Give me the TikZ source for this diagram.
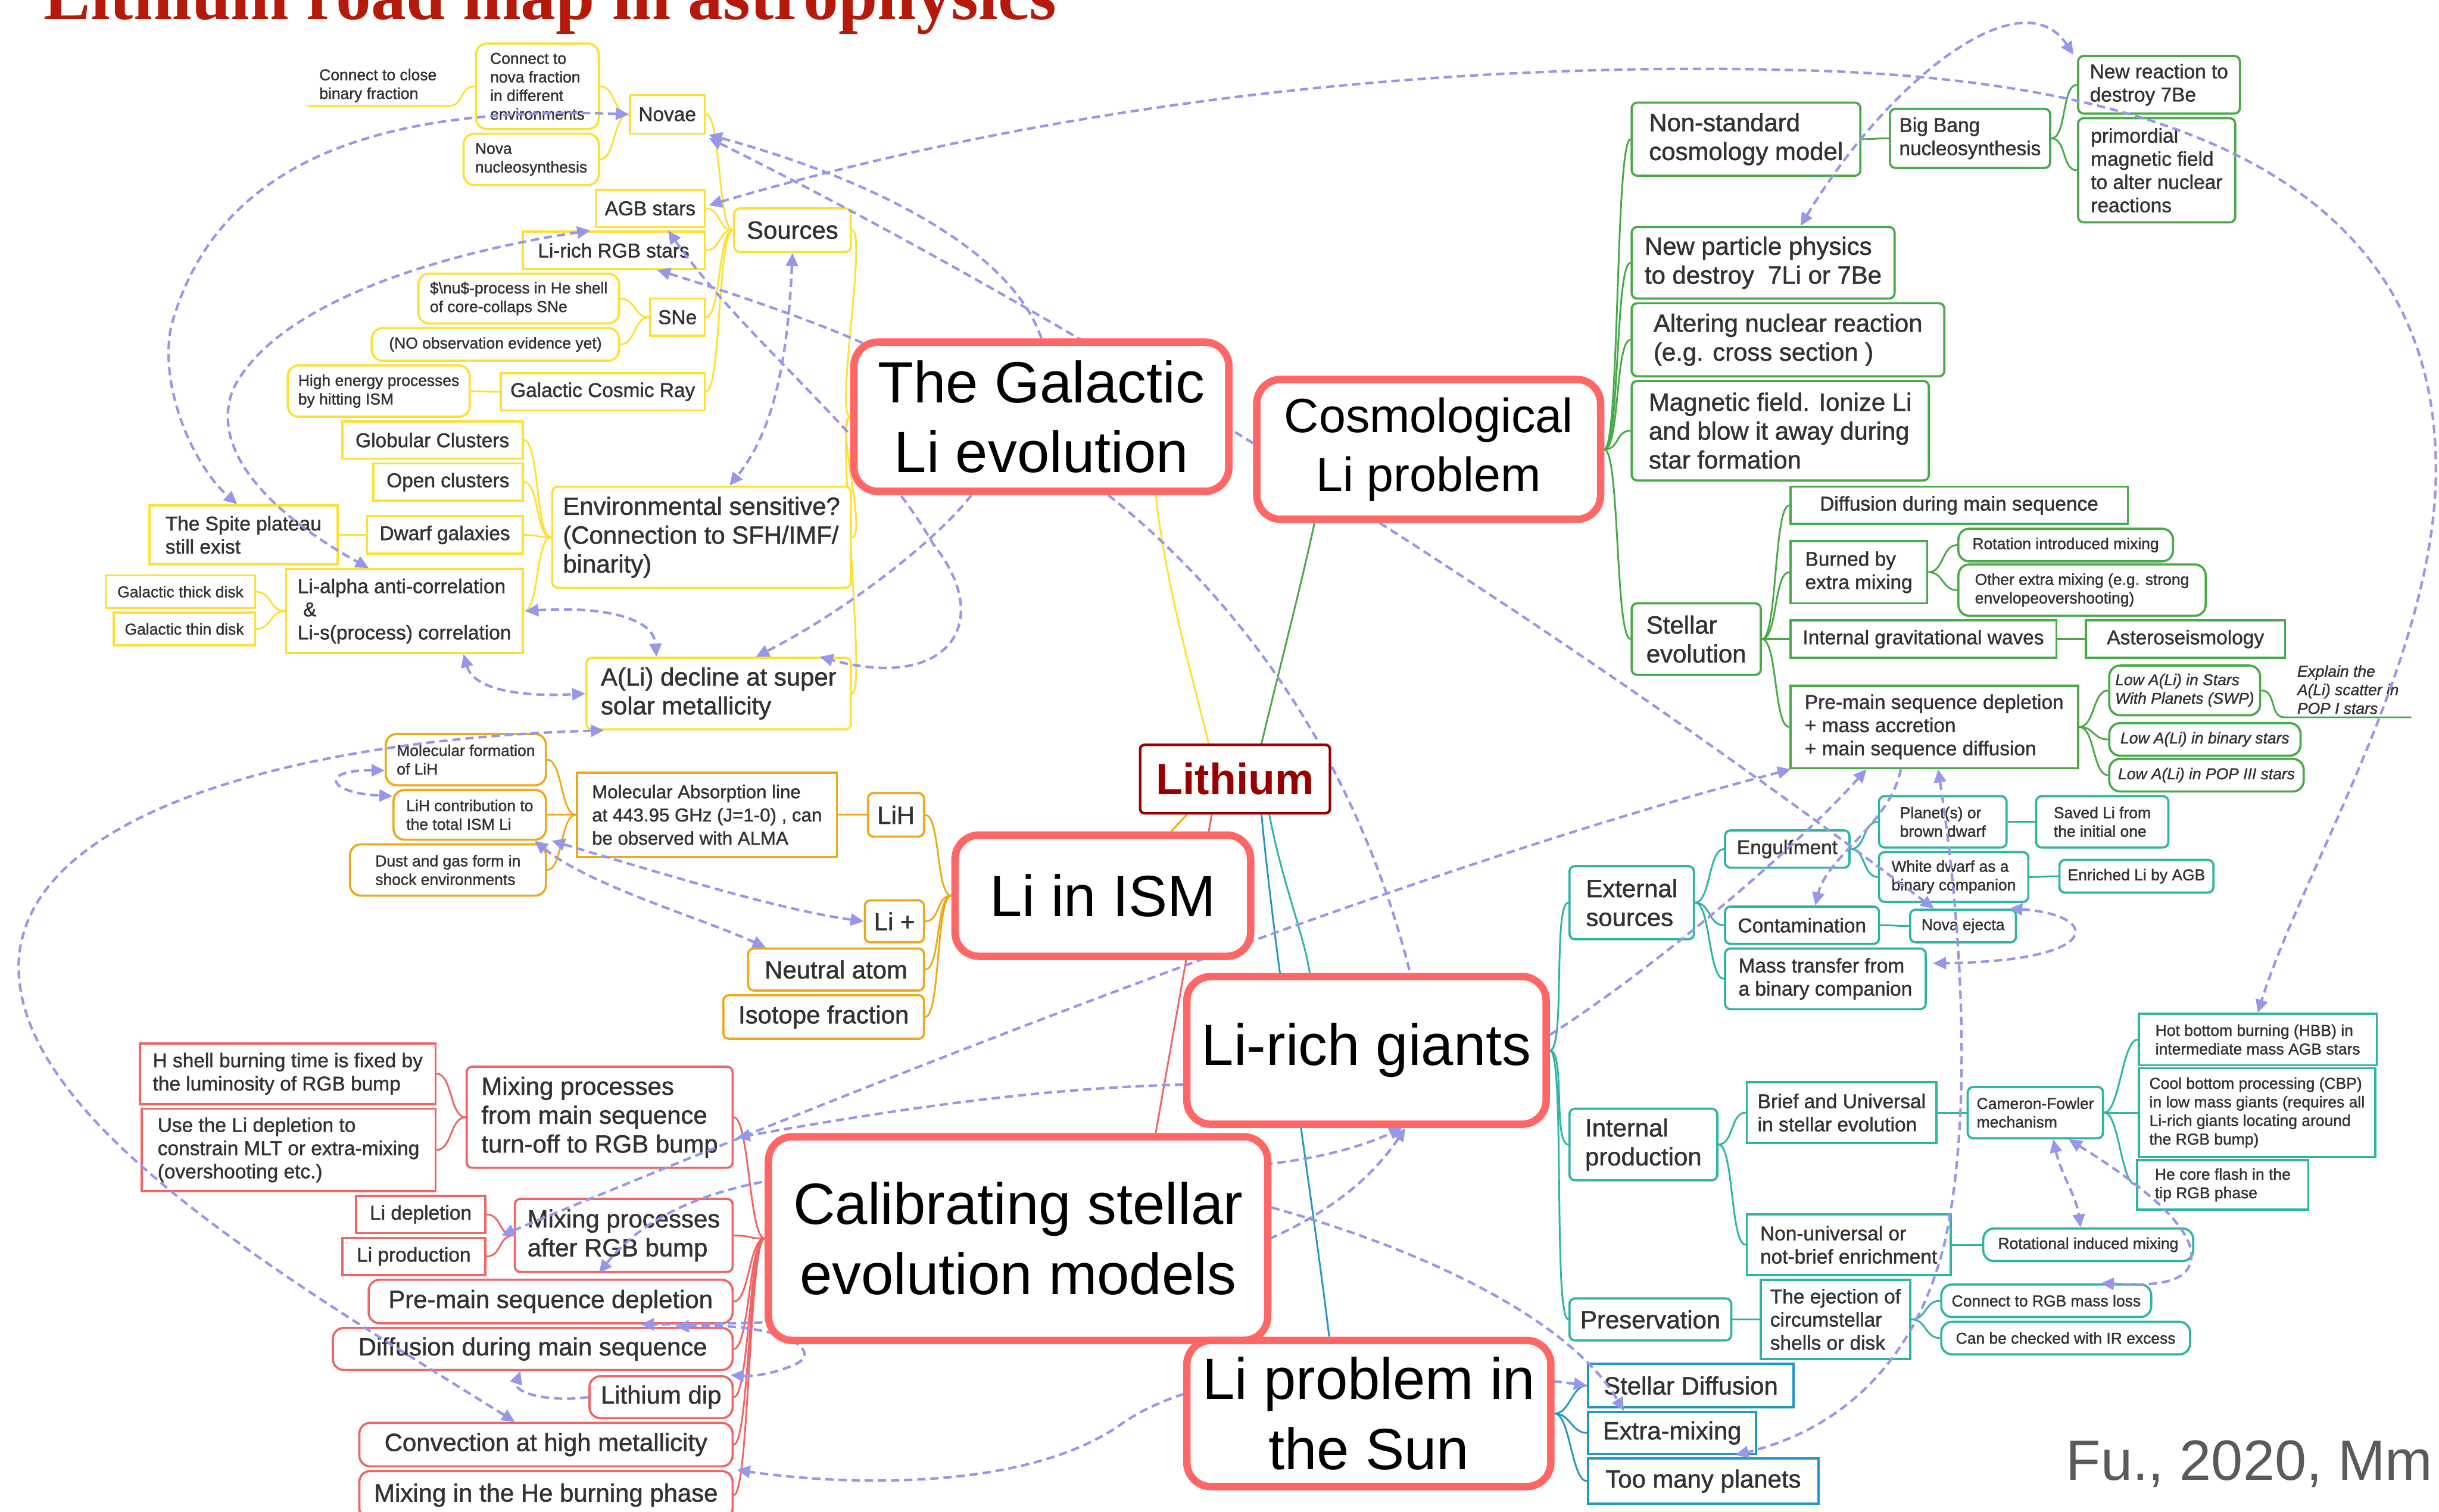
\documentclass[tikz,border=0pt]{standalone}
\usepackage{fontspec}
\setmainfont{Liberation Sans}
\newfontfamily\nodefont{Liberation Sans}[FakeBold=1.3]
\newfontfamily\titlefont{Liberation Serif}
\usetikzlibrary{arrows.meta,calc}
\pgfdeclarelayer{bg}
\pgfdeclarelayer{rel}
\pgfdeclarelayer{top}
\pgfsetlayers{bg,main,rel,top}
\definecolor{ycol}{RGB}{255,224,50}
\definecolor{ocol}{RGB}{240,168,25}
\definecolor{rcol}{RGB}{240,100,100}
\definecolor{mcol}{RGB}{255,102,102}
\definecolor{gcol}{RGB}{70,170,70}
\definecolor{tcol}{RGB}{45,180,165}
\definecolor{bcol}{RGB}{35,150,195}
\definecolor{lav}{RGB}{150,150,235}
\definecolor{txt}{RGB}{50,50,50}
\definecolor{lithc}{RGB}{150,0,0}
\definecolor{titc}{RGB}{180,25,10}
\definecolor{citec}{RGB}{90,90,90}
\newcommand\mnode[7]{\node[#1,minimum width={(#4-#2)*0.025cm},minimum height={(#5-#3)*0.025cm}] (#6) at ({(#2+#4)/2},{(#3+#5)/2}) {#7};}
\newcommand\brL[2]{\draw (#1.west) .. controls +(-10,0) and +(10,0) .. (#2.east);}
\newcommand\brR[2]{\draw (#1.east) .. controls +(10,0) and +(-10,0) .. (#2.west);}
\tikzset{
  bx/.style={draw, line width=1pt, fill=white, text=txt, align=left, inner xsep=2.5pt, inner ysep=1pt},
  sq/.style={bx},
  rs/.style={bx, rounded corners=2.5pt},
  pl/.style={bx, rounded corners=5pt},
  f2/.style={font=\nodefont\fontsize{11.4}{13.2}\selectfont},
  f3/.style={font=\nodefont\fontsize{9.1}{10.6}\selectfont},
  f3m/.style={font=\nodefont\fontsize{8.5}{10.6}\selectfont},
  f4/.style={font=\nodefont\fontsize{7.2}{8.5}\selectfont},
  f4i/.style={font=\nodefont\fontsize{7.2}{8.5}\selectfont\itshape},
  cY/.style={draw=ycol}, cO/.style={draw=ocol}, cR/.style={draw=rcol},
  cG/.style={draw=gcol}, cT/.style={draw=tcol}, cB/.style={draw=bcol},
  ul/.style={align=left, text=txt, inner xsep=2pt, inner ysep=1pt},
  mt/.style={draw=mcol, line width=3.4pt, fill=white, rounded corners=11pt, align=center, text=black, inner sep=2pt, font=\fontsize{26.6}{31.9}\selectfont},
  mtc/.style={font=\fontsize{22}{27}\selectfont},
  lithst/.style={draw=lithc, line width=1.2pt, fill=white, rounded corners=2pt, text=lithc, inner sep=2pt, font=\fontsize{20}{24}\selectfont\bfseries},
  rl/.style={draw=lav, line width=1.15pt, dash pattern=on 3.8pt off 2.2pt},
  rel0/.style={rl},
  rel1/.style={rl,->},
  rel2/.style={rl,<->},
}
\begin{document}
\begin{tikzpicture}[x=0.025cm,y=-0.025cm,>={Triangle[length=6pt,width=5.5pt]}]
\useasboundingbox (0,0) rectangle (1568,972);
\begin{pgfonlayer}{bg}
\fill[white] (0,0) rectangle (1568,972);
\end{pgfonlayer}

% title and credit
\node[anchor=base west, inner sep=0, text=titc, font=\titlefont\bfseries\fontsize{32}{36}\selectfont] (title) at (28,12.5) {Lithium road map in astrophysics};
\node[anchor=base west, inner sep=0, text=citec, font=\fontsize{26}{30}\selectfont] (cite) at (1328,952) {Fu., 2020, Mm};

% ---------- yellow branch ----------
\mnode{ul,f4}{198}{42}{288}{68}{closebin}{Connect to close\\binary fraction}
\mnode{pl,cY,f4}{306}{28}{385}{83}{connnova}{Connect to\\nova fraction\\in different\\environments}
\mnode{pl,cY,f4}{298}{86}{385}{119}{novanuc}{Nova\\nucleosynthesis}
\mnode{sq,cY,f3}{405}{61}{453}{86}{novae}{Novae}
\mnode{sq,cY,f3}{383}{122}{453}{146}{agb}{AGB stars}
\mnode{sq,cY,f3}{336}{149}{453}{173}{lirgb}{Li-rich RGB stars}
\mnode{rs,cY,f2}{472}{134}{547}{162}{sources}{Sources}
\mnode{pl,cY,f4}{269}{176}{398}{208}{nuproc}{\$\textbackslash nu\$-process in He shell\\of core-collaps SNe}
\mnode{pl,cY,f4}{239}{211}{398}{232}{noobs}{(NO observation evidence yet)}
\mnode{sq,cY,f3}{418}{192}{453}{216}{sne}{SNe}
\mnode{pl,cY,f4}{185}{235}{302}{268}{highen}{High energy processes\\by hitting ISM}
\mnode{sq,cY,f3}{322}{240}{453}{264}{gcr}{Galactic Cosmic Ray}
\mnode{sq,cY,f3}{220}{271}{336}{295}{glob}{Globular Clusters}
\mnode{sq,cY,f3}{240}{298}{336}{322}{openc}{Open clusters}
\mnode{sq,cY,f3}{236}{332}{336}{356}{dwarf}{Dwarf galaxies}
\mnode{sq,cY,f3}{96}{325}{217}{363}{spite}{The Spite plateau\\still exist}
\mnode{rs,cY,f2}{355}{313}{547}{378}{env}{Environmental sensitive?\\(Connection to SFH/IMF/\\binarity)}
\mnode{sq,cY,f4}{68}{370}{164}{391}{thick}{Galactic thick disk}
\mnode{sq,cY,f4}{73}{394}{164}{415}{thin}{Galactic thin disk}
\mnode{sq,cY,f3}{184}{366}{336}{420}{lialpha}{Li-alpha anti-correlation\\\ \&\\Li-s(process) correlation}
\mnode{rs,cY,f2}{377}{423}{547}{469}{ali}{A(Li) decline at super\\solar metallicity}

% ---------- orange branch ----------
\mnode{pl,cO,f4}{248}{472}{351}{505}{molform}{Molecular formation\\of LiH}
\mnode{pl,cO,f4}{253}{508}{351}{540}{lihc}{LiH contribution to\\the total ISM Li}
\mnode{pl,cO,f4}{225}{543}{351}{576}{dust}{Dust and gas form in\\shock environments}
\mnode{sq,cO,f3m}{371}{497}{538}{551}{molabs}{Molecular Absorption line\\at 443.95 GHz (J=1-0) , can\\be observed with ALMA}
\mnode{rs,cO,f2}{558}{510}{594}{538}{lih}{LiH}
\mnode{rs,cO,f2}{556}{579}{594}{606}{liplus}{Li +}
\mnode{rs,cO,f2}{481}{610}{594}{637}{neutral}{Neutral atom}
\mnode{rs,cO,f2}{465}{640}{594}{668}{isotope}{Isotope fraction}

% ---------- red branch ----------
\mnode{sq,cR,f3}{90}{671}{280}{710}{hshell}{H shell burning time is fixed by\\the luminosity of RGB bump}
\mnode{sq,cR,f3}{91}{713}{280}{766}{useli}{Use the Li depletion to\\constrain MLT or extra-mixing\\(overshooting etc.)}
\mnode{rs,cR,f2}{300}{686}{471}{751}{mixms}{Mixing processes\\from main sequence\\turn-off to RGB bump}
\mnode{sq,cR,f3}{229}{769}{312}{793}{lidepl}{Li depletion}
\mnode{sq,cR,f3}{220}{796}{312}{820}{liprod}{Li production}
\mnode{rs,cR,f2}{331}{771}{471}{818}{mixrgb}{Mixing processes\\after RGB bump}
\mnode{pl,cR,f2}{237}{823}{471}{851}{prems}{Pre-main sequence depletion}
\mnode{pl,cR,f2}{214}{854}{471}{881}{diff}{Diffusion during main sequence}
\mnode{pl,cR,f2}{379}{885}{471}{912}{lidip}{Lithium dip}
\mnode{pl,cR,f2}{231}{915}{471}{943}{conv}{Convection at high metallicity}
\mnode{pl,cR,f2}{231}{946}{471}{977}{mixhe}{Mixing in the He burning phase}

% ---------- green branch ----------
\mnode{rs,cG,f2}{1049}{66}{1196}{113}{nonstd}{Non-standard\\cosmology model}
\mnode{rs,cG,f3}{1215}{70}{1318}{108}{bigbang}{Big Bang\\nucleosynthesis}
\mnode{rs,cG,f3}{1336}{36}{1440}{73}{newreac}{New reaction to\\destroy 7Be}
\mnode{rs,cG,f3}{1336}{76}{1437}{143}{primord}{primordial\\magnetic field\\to alter nuclear\\reactions}
\mnode{rs,cG,f2}{1049}{146}{1218}{192}{newpart}{New particle physics\\to destroy\ \ 7Li or 7Be}
\mnode{rs,cG,f2}{1049}{195}{1250}{242}{alter}{Altering nuclear reaction\\(e.g. cross section )}
\mnode{rs,cG,f2}{1049}{245}{1240}{309}{magfield}{Magnetic field. Ionize Li\\and blow it away during\\star formation}
\mnode{sq,cG,f3}{1151}{313}{1368}{337}{diffms}{Diffusion during main sequence}
\mnode{sq,cG,f3}{1151}{348}{1239}{388}{burned}{Burned by\\extra mixing}
\mnode{pl,cG,f4}{1259}{340}{1397}{361}{rotint}{Rotation introduced mixing}
\mnode{pl,cG,f4}{1259}{363}{1418}{396}{otherx}{Other extra mixing (e.g. strong\\envelopeovershooting)}
\mnode{rs,cG,f2}{1049}{388}{1132}{434}{stellar}{Stellar\\evolution}
\mnode{sq,cG,f3}{1151}{399}{1322}{423}{igw}{Internal gravitational waves}
\mnode{sq,cG,f3}{1341}{399}{1469}{423}{astero}{Asteroseismology}
\mnode{sq,cG,f3}{1151}{441}{1336}{494}{premsdep}{Pre-main sequence depletion\\+ mass accretion\\+ main sequence diffusion}
\mnode{pl,cG,f4i}{1356}{428}{1453}{460}{swp}{Low A(Li) in Stars\\With Planets (SWP)}
\mnode{ul,f4i}{1469}{426}{1550}{461}{explain}{Explain the\\A(Li) scatter in\\POP I stars}
\mnode{pl,cG,f4i}{1356}{465}{1479}{486}{binst}{Low A(Li) in binary stars}
\mnode{pl,cG,f4i}{1356}{488}{1481}{509}{pop3}{Low A(Li) in POP III stars}

% ---------- teal branch ----------
\mnode{rs,cT,f2}{1009}{557}{1089}{604}{external}{External\\sources}
\mnode{rs,cT,f3}{1109}{534}{1189}{558}{engulf}{Engulfment}
\mnode{rs,cT,f4}{1208}{512}{1290}{545}{planet}{Planet(s) or\\brown dwarf}
\mnode{rs,cT,f4}{1309}{512}{1394}{545}{saved}{Saved Li from\\the initial one}
\mnode{rs,cT,f4}{1208}{548}{1304}{580}{wd}{White dwarf as a\\binary companion}
\mnode{rs,cT,f4}{1324}{553}{1423}{574}{enriched}{Enriched Li by AGB}
\mnode{rs,cT,f3}{1109}{583}{1208}{607}{contam}{Contamination}
\mnode{rs,cT,f4}{1228}{585}{1296}{606}{novaej}{Nova ejecta}
\mnode{rs,cT,f3}{1109}{610}{1238}{649}{masstr}{Mass transfer from\\a binary companion}
\mnode{sq,cT,f4}{1375}{652}{1528}{685}{hbb}{Hot bottom burning (HBB) in\\intermediate mass AGB stars}
\mnode{sq,cT,f4}{1375}{687}{1527}{744}{cbp}{Cool bottom processing (CBP)\\in low mass giants (requires all\\Li-rich giants locating around\\the RGB bump)}
\mnode{sq,cT,f3}{1123}{696}{1245}{735}{brief}{Brief and Universal\\in stellar evolution}
\mnode{rs,cT,f4}{1265}{699}{1352}{732}{cameron}{Cameron-Fowler\\mechanism}
\mnode{rs,cT,f2}{1009}{713}{1104}{759}{internal}{Internal\\production}
\mnode{sq,cT,f4}{1374}{746}{1484}{778}{heflash}{He core flash in the\\tip RGB phase}
\mnode{sq,cT,f3}{1123}{781}{1254}{820}{nonuniv}{Non-universal or\\not-brief enrichment}
\mnode{pl,cT,f4}{1275}{790}{1410}{811}{rotind}{Rotational induced mixing}
\mnode{rs,cT,f2}{1009}{835}{1113}{862}{preserv}{Preservation}
\mnode{sq,cT,f3}{1132}{823}{1228}{874}{eject}{The ejection of\\circumstellar\\shells or disk}
\mnode{pl,cT,f4}{1248}{826}{1383}{847}{connrgb}{Connect to RGB mass loss}
\mnode{pl,cT,f4}{1248}{850}{1408}{871}{irex}{Can be checked with IR excess}

% ---------- blue branch ----------
\mnode{sq,cB,f2}{1021}{877}{1153}{905}{stdiff}{Stellar Diffusion}
\mnode{sq,cB,f2}{1021}{908}{1129}{935}{extram}{Extra-mixing}
\mnode{sq,cB,f2}{1021}{938}{1169}{967}{toomany}{Too many planets}

% ---------- main topics ----------
\begin{pgfonlayer}{top}
\mnode{mt}{549}{220}{790}{316}{gal}{The Galactic\\Li evolution}
\mnode{mt,mtc}{808}{244}{1029}{334}{cosmo}{Cosmological\\Li problem}
\mnode{mt}{614}{537}{804}{615}{ism}{Li in ISM}
\mnode{mt}{763}{628}{994}{723}{giants}{Li-rich giants}
\mnode{mt}{494}{731}{815}{862}{cal}{Calibrating stellar\\evolution models}
\mnode{mt}{763}{862}{997}{956}{sun}{Li problem in\\the Sun}
\mnode{lithst}{733}{479}{855}{523}{lith}{Lithium}
\end{pgfonlayer}

% ---------- tree branches ----------
\begin{pgfonlayer}{bg}
\begin{scope}[draw=ycol, line width=0.8pt]
\draw (closebin.south west) -- (closebin.south east) .. controls +(10,0) and +(-10,0) .. (connnova.west);
\brL{novae}{connnova} \brL{novae}{novanuc}
\brL{sources}{novae} \brL{sources}{agb} \brL{sources}{lirgb} \brL{sources}{sne} \brL{sources}{gcr}
\brL{sne}{nuproc} \brL{sne}{noobs}
\brL{gcr}{highen}
\brL{env}{glob} \brL{env}{openc} \brL{env}{dwarf} \brL{env}{lialpha}
\brL{dwarf}{spite}
\brL{lialpha}{thick} \brL{lialpha}{thin}
\brL{gal}{sources} \brL{gal}{env} \brL{gal}{ali}
\draw ($(lith.north)+(-17,0)$) .. controls (768,440) and (750,380) .. ($(gal.south)+(73.5,0)$);
\end{scope}
\begin{scope}[draw=ocol, line width=0.8pt]
\brL{ism}{lih} \brL{ism}{liplus} \brL{ism}{neutral} \brL{ism}{isotope}
\brL{lih}{molabs}
\brL{molabs}{molform} \brL{molabs}{lihc} \brL{molabs}{dust}
\draw ($(lith.south)+(-31,0)$) -- ($(ism.north)+(44,0)$);
\end{scope}
\begin{scope}[draw=rcol, line width=0.8pt]
\brL{cal}{mixms} \brL{cal}{mixrgb} \brL{cal}{prems} \brL{cal}{diff} \brL{cal}{lidip} \brL{cal}{conv} \brL{cal}{mixhe}
\brL{mixms}{hshell} \brL{mixms}{useli}
\brL{mixrgb}{lidepl} \brL{mixrgb}{liprod}
\draw ($(lith.south)+(-15,0)$) -- ($(cal.north)+(88.5,0)$);
\end{scope}
\begin{scope}[draw=gcol, line width=0.8pt]
\brR{cosmo}{nonstd} \brR{cosmo}{newpart} \brR{cosmo}{alter} \brR{cosmo}{magfield} \brR{cosmo}{stellar}
\brR{nonstd}{bigbang}
\brR{bigbang}{newreac} \brR{bigbang}{primord}
\brR{stellar}{diffms} \brR{stellar}{burned} \brR{stellar}{igw} \brR{stellar}{premsdep}
\brR{burned}{rotint} \brR{burned}{otherx}
\brR{igw}{astero}
\brR{premsdep}{swp} \brR{premsdep}{binst} \brR{premsdep}{pop3}
\draw (swp.east) .. controls +(10,0) and +(-10,0) .. (explain.south west) -- (explain.south east);
\draw ($(lith.north)+(17,0)$) .. controls (825,420) and (838,370) .. ($(cosmo.south)+(-73.5,0)$);
\end{scope}
\begin{scope}[draw=tcol, line width=0.8pt]
\brR{giants}{external} \brR{giants}{internal} \brR{giants}{preserv}
\brR{external}{engulf} \brR{external}{contam} \brR{external}{masstr}
\brR{engulf}{planet} \brR{engulf}{wd}
\brR{planet}{saved} \brR{wd}{enriched}
\brR{contam}{novaej}
\brR{internal}{brief} \brR{internal}{nonuniv}
\brR{brief}{cameron}
\brR{cameron}{hbb} \brR{cameron}{cbp} \brR{cameron}{heflash}
\brR{nonuniv}{rotind}
\brR{preserv}{eject}
\brR{eject}{connrgb} \brR{eject}{irex}
\draw ($(lith.south)+(22,0)$) .. controls (825,570) and (838,600) .. ($(giants.north)+(-36.5,0)$);
\end{scope}
\begin{scope}[draw=bcol, line width=0.8pt]
\brR{sun}{stdiff} \brR{sun}{extram} \brR{sun}{toomany}
\draw ($(lith.south)+(17,0)$) .. controls (820,620) and (845,780) .. ($(sun.north)+(-25.5,0)$);
\end{scope}
\end{pgfonlayer}

% ---------- relationships ----------
\begin{pgfonlayer}{rel}
\draw[rel2] (novae.west) .. controls (250,68) and (140,100) .. (110,210) .. controls (102,250) and (125,300) .. ($(spite.north)+(-4,0)$);
\draw[rel2] ($(lirgb.north)+(-15,0)$) .. controls (300,160) and (180,190) .. (150,250) .. controls (130,300) and (200,345) .. ($(lialpha.north)+(-23,0)$);
\draw[rel2] ($(novae.south east)+(2,2)$) .. controls (700,210) and (1000,400) .. ($(novaej.north west)+(16,0)$);
\draw[rel1] (gal.north) .. controls (650,160) and (560,115) .. ($(novae.south east)+(2,0)$);
\draw[rel0] ($(gal.south)+(43,0)$) .. controls (790,380) and (870,480) .. ($(giants.north)+(28,0)$);
\draw[rel2] ($(lirgb.north)+(35,0)$) .. controls (480,220) and (560,280) .. (600,350) .. controls (640,400) and (610,445) .. ($(ali.north)+(65,0)$);
\draw[rel1] ($(gal.south)+(-45,0)$) .. controls (600,350) and (540,395) .. ($(ali.north)+(24,0)$);
\draw[rel1] ($(gal.north west)+(8,3)$) .. controls (520,205) and (460,185) .. ($(lirgb.south)+(28,0)$);
\draw[rel2] (sources.south) .. controls (506,240) and (495,280) .. ($(env.north)+(18,0)$);
\draw[rel2] ($(lialpha.east)+(1,0)$) .. controls (380,390) and (420,395) .. ($(ali.north)+(-40,0)$);
\draw[rel2] ($(lialpha.south)+(38,0)$) .. controls (305,445) and (340,448) .. (ali.west);
\draw[rel2] ($(ali.south west)+(12,0)$) .. controls (200,475) and (15,520) .. (12,620) .. controls (10,720) and (180,820) .. ($(conv.north)+(-20,0)$);
\draw[rel2] ($(molform.west)+(0,7)$) .. controls (205,495) and (210,510) .. ($(lihc.west)+(0,-12)$);
\draw[rel2] ($(lihc.south east)+(-8,0)$) .. controls (380,570) and (450,590) .. ($(neutral.north west)+(12,0)$);
\draw[rel2] ($(lihc.south east)+(3,0)$) .. controls (420,560) and (500,585) .. (liplus.west);
\draw[rel1] ($(giants.west)+(0,22)$) .. controls (650,700) and (540,720) .. ($(mixms.east)+(2,13)$);
\draw[rel2] ($(premsdep.south west)+(1,0)$) .. controls (900,560) and (550,700) .. ($(mixrgb.west)+(-8,0)$);
\draw[rel2] ($(mixrgb.south)+(-16,0)$) .. controls (480,700) and (760,790) .. ($(giants.south)+(23,0)$);
\draw[rel2] ($(giants.south)+(25,0)$) .. controls (860,790) and (760,850) .. ($(prems.south)+(58,0)$);
\draw[rel2] ($(diff.north)+(92,0)$) .. controls (500,850) and (530,868) .. (512,877) .. controls (495,885) and (480,885) .. ($(lidip.north east)+(-2,0)$);
\draw[rel1] (lidip.west) .. controls (350,902) and (330,895) .. ($(diff.south)+(-8,0)$);
\draw[rel1] ($(cal.east)+(0,-20)$) .. controls (920,805) and (1010,850) .. ($(extram.north)+(-31,0)$);
\draw[rel2] (stdiff.west) .. controls (900,875) and (780,875) .. (722,915) .. controls (660,960) and (540,955) .. ($(mixhe.north east)+(2,0)$);
\draw[rel1] ($(giants.east)+(0,-10)$) .. controls (1060,625) and (1150,550) .. ($(premsdep.south)+(-43.5,0)$);
\draw[rel1] ($(premsdep.south)+(-21.5,0)$) .. controls (1215,530) and (1175,550) .. ($(contam.north)+(8.5,0)$);
\draw[rel2] ($(premsdep.south)+(2.5,0)$) .. controls (1262,600) and (1268,720) .. (1250,800) .. controls (1230,880) and (1180,920) .. ($(extram.south east)+(-14,0)$);
\draw[rel2] ($(novaej.north east)+(-5,0)$) .. controls (1350,588) and (1355,618) .. ($(masstr.east)+(4,-10)$);
\draw[rel2] ($(cameron.south)+(11.5,0)$) .. controls (1325,755) and (1335,770) .. ($(rotind.north)+(-5,0)$);
\draw[rel2] ($(cameron.south)+(21.5,0)$) .. controls (1390,770) and (1420,800) .. (1405,818) .. controls (1395,828) and (1370,826) .. ($(connrgb.north)+(35,0)$);
\draw[rel2] ($(newpart.north)+(24,0)$) .. controls (1215,50) and (1300,-15) .. ($(newreac.north)+(-55,0)$);
\draw[rel2] ($(agb.east)+(2,-2)$) .. controls (700,60) and (950,40) .. (1150,45) .. controls (1400,50) and (1565,120) .. (1566,300) .. controls (1567,420) and (1480,560) .. (hbb.north);
\end{pgfonlayer}
\end{tikzpicture}
\end{document}
